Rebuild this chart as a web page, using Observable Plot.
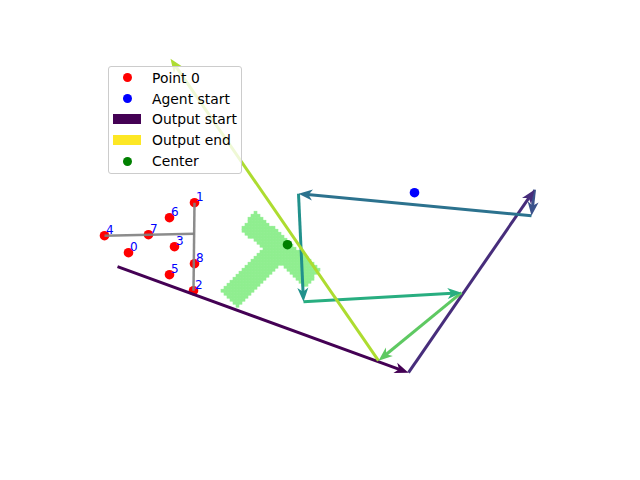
<!DOCTYPE html>
<html><head><meta charset="utf-8">
<script src="https://cdn.jsdelivr.net/npm/d3@7"></script>
<script src="https://cdn.jsdelivr.net/npm/@observablehq/plot@0.6"></script>
<style>
body{margin:0;background:#fff;font-family:"DejaVu Sans",sans-serif;}
#wrap{position:relative;width:640px;height:480px;}
#legend{position:absolute;left:108px;top:66px;width:132px;height:105px;background:rgba(255,255,255,0.8);border:1px solid #ccc;border-radius:3px;padding-top:0.5px;box-sizing:content-box;}
.row{display:flex;align-items:center;height:20.8px;}
.mk{width:28px;margin-left:4px;display:flex;justify-content:center;align-items:center;}
.lab{margin-left:11px;font-size:13.9px;color:#000;white-space:nowrap;}
</style></head><body><div id="wrap"></div>
<script>
// ---- data ----
const pointIds = [0, 1, 2, 3, 4, 5, 6, 7, 8];
const pointX = [4.8, 11.4, 11.3, 9.4, 2.4, 8.9, 8.9, 6.8, 11.4];
const pointY = [17.5, 22.5, 13.7, 18.1, 19.2, 15.3, 21.0, 19.3, 16.4];

const armX1 = [2.4, 11.4];
const armY1 = [19.2, 22.5];
const armX2 = [11.4, 11.3];
const armY2 = [19.4, 13.7];

const pathX = [3.7, 32.8, 45.4, 45.1, 21.8, 22.3, 38.1, 29.8, 9.0];
const pathY = [16.1, 5.5, 23.8, 21.2, 23.4, 12.6, 13.5, 6.7, 36.9];

const agentStart = [33.4, 23.5];
const center = [20.7, 18.3];

const tBarStart = [16.8, 20.7];
const tBarEnd = [23.3, 14.9];
const tStemEnd = [14.9, 12.8];
const tWidth = 2.3;
const cellSize = 0.3;

const legendLabels = ["Point 0", "Agent start", "Output start", "Output end", "Center"];

// ---- build ----
const points = pointIds.map((id, i) => ({id, x: pointX[i], y: pointY[i]}));
const arms = armX1.map((_, i) => ({x1: armX1[i], y1: armY1[i], x2: armX2[i], y2: armY2[i]}));
const nSeg = pathX.length - 1;
const segs = d3.range(nSeg).map(i => ({
  i, x1: pathX[i], y1: pathY[i], x2: pathX[i + 1], y2: pathY[i + 1],
  color: d3.interpolateViridis(i / nSeg)
}));

const barMid = [(tBarStart[0] + tBarEnd[0]) / 2, (tBarStart[1] + tBarEnd[1]) / 2];
function inSeg(px, py, a, b, hw) {
  const vx = b[0] - a[0], vy = b[1] - a[1];
  const L2 = vx * vx + vy * vy;
  const t = ((px - a[0]) * vx + (py - a[1]) * vy) / L2;
  if (t < 0 || t > 1) return false;
  const cx = a[0] + t * vx - px, cy = a[1] + t * vy - py;
  return Math.sqrt(cx * cx + cy * cy) <= hw;
}
const inT = (x, y) => inSeg(x, y, tBarStart, tBarEnd, tWidth / 2) || inSeg(x, y, barMid, tStemEnd, tWidth / 2);
const xs = [tBarStart[0], tBarEnd[0], tStemEnd[0]], ys = [tBarStart[1], tBarEnd[1], tStemEnd[1]];
const gx0 = Math.floor((d3.min(xs) - tWidth) / cellSize) * cellSize;
const gy0 = Math.floor((d3.min(ys) - tWidth) / cellSize) * cellSize;
const nx = Math.ceil((d3.max(xs) + tWidth - gx0) / cellSize);
const ny = Math.ceil((d3.max(ys) + tWidth - gy0) / cellSize);
const cells = [];
for (let i = 0; i < nx; ++i) for (let j = 0; j < ny; ++j) {
  const x1 = gx0 + i * cellSize, y1 = gy0 + j * cellSize;
  if (inT(x1 + cellSize / 2, y1 + cellSize / 2)) cells.push({x1, x2: x1 + cellSize, y1, y2: y1 + cellSize});
}

const head = {
  draw(ctx) {
    const L = 14, w = 5.5;
    ctx.moveTo(0, 0);
    ctx.lineTo(-w, L);
    ctx.lineTo(0, L * 0.72);
    ctx.lineTo(w, L);
    ctx.closePath();
  }
};
const angle = d => Math.atan2(d.x2 - d.x1, d.y2 - d.y1) * 180 / Math.PI;

const chart = Plot.plot({
  width: 640, height: 480,
  marginLeft: 80, marginRight: 64, marginTop: 57.6, marginBottom: 52.8,
  x: {domain: [0, 49.6], axis: null},
  y: {domain: [0, 36.96], axis: null},
  style: {fontFamily: "DejaVu Sans, sans-serif", background: "white"},
  marks: [
    Plot.rect(cells, {x1: "x1", x2: "x2", y1: "y1", y2: "y2", fill: "lightgreen", stroke: "lightgreen", strokeWidth: 0.6}),
    Plot.dot(points, {x: "x", y: "y", r: 4.8, fill: "red"}),
    Plot.link(arms, {x1: "x1", y1: "y1", x2: "x2", y2: "y2", stroke: "gray", strokeWidth: 2.5, strokeOpacity: 0.9}),
    Plot.text(points, {x: "x", y: "y", text: d => String(d.id), fill: "blue", fontSize: 12, textAnchor: "start", lineAnchor: "bottom", dx: 1.5, dy: -2}),
    Plot.arrow(segs, {x1: "x1", y1: "y1", x2: "x2", y2: "y2", stroke: d => d.color, strokeWidth: 3, headLength: 0, insetEnd: 9, strokeLinecap: "butt"}),
    Plot.dot(segs, {x: "x2", y: "y2", symbol: head, r: 5, rotate: angle, fill: d => d.color, stroke: "none"}),
    Plot.dot([agentStart], {x: d => d[0], y: d => d[1], r: 4.8, fill: "blue"}),
    Plot.dot([center], {x: d => d[0], y: d => d[1], r: 4.8, fill: "green"})
  ]
});

const wrap = document.getElementById("wrap");
wrap.appendChild(chart);

const legendMarks = [
  {type: "dot", color: "red"},
  {type: "dot", color: "blue"},
  {type: "rect", color: d3.interpolateViridis(0)},
  {type: "rect", color: d3.interpolateViridis(1)},
  {type: "dot", color: "green"}
];
const lg = document.createElement("div");
lg.id = "legend";
legendLabels.forEach((lab, i) => {
  const row = document.createElement("div"); row.className = "row";
  const mk = document.createElement("div"); mk.className = "mk";
  const m = document.createElement("div");
  const lm = legendMarks[i];
  if (lm.type === "dot") { m.style.cssText = `width:9px;height:9px;border-radius:50%;background:${lm.color}`; }
  else { m.style.cssText = `width:28px;height:10px;background:${lm.color}`; }
  mk.appendChild(m);
  const t = document.createElement("div"); t.className = "lab"; t.textContent = lab;
  row.appendChild(mk); row.appendChild(t);
  lg.appendChild(row);
});
wrap.appendChild(lg);
</script></body></html>
